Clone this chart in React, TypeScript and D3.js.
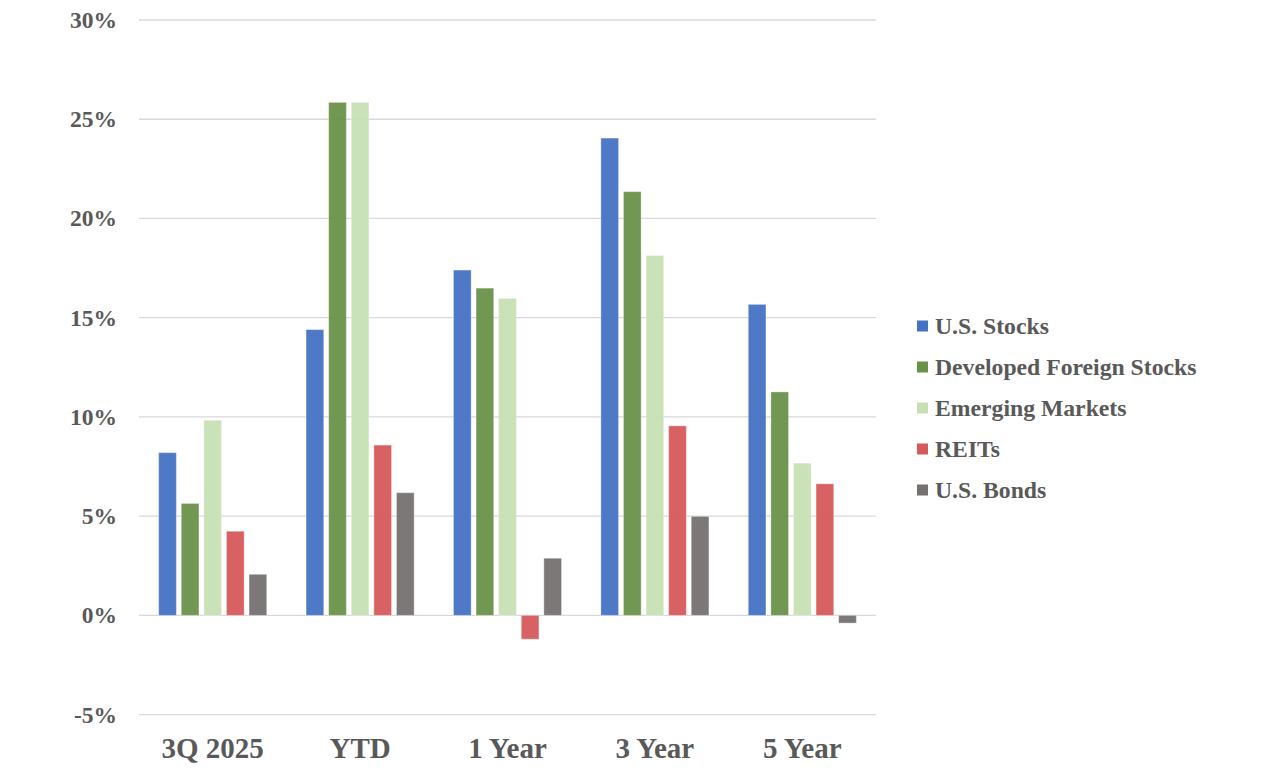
import React from 'react';
import * as d3 from 'd3';

const categories = ['3Q 2025', 'YTD', '1 Year', '3 Year', '5 Year'];
const seriesNames = ['U.S. Stocks', 'Developed Foreign Stocks', 'Emerging Markets', 'REITs', 'U.S. Bonds'];
const seriesColors = ['#4472C4', '#6A914A', '#C6E0B4', '#D65A5B', '#767171'];

// returns (%) per category, one array per series
const usStocks = [8.2, 14.4, 17.4, 24.05, 15.67];
const devForeign = [5.64, 25.85, 16.49, 21.35, 11.26];
const emerging = [9.83, 25.85, 15.97, 18.13, 7.67];
const reits = [4.24, 8.58, -1.2, 9.55, 6.63];
const usBonds = [2.07, 6.18, 2.88, 4.99, -0.39];

const yTicks = [-5, 0, 5, 10, 15, 20, 25, 30];

const W = 1277;
const H = 783;
const textColor = '#595959';
const font = '"Liberation Serif", "Times New Roman", serif';

export default function App() {
  const series = [usStocks, devForeign, emerging, reits, usBonds];

  const x = d3.scaleBand<string>().domain(categories).range([139, 876]);
  const inner = d3
    .scaleBand<number>()
    .domain(d3.range(seriesNames.length))
    .range([0, x.bandwidth()])
    .paddingInner(0.217)
    .paddingOuter(0.87);
  const y = d3.scaleLinear().domain([-5, 30]).range([714.6, 20]);

  return (
    <svg width={W} height={H} style={{ position: 'absolute', left: 0, top: 0, background: '#fff' }}>
      {/* gridlines */}
      <g>
        {yTicks.map(t => (
          <line key={t} x1={139} x2={876} y1={y(t)} y2={y(t)} stroke="#d9d9d9" strokeWidth={1.3} />
        ))}
      </g>

      {/* y labels */}
      <g fontFamily={font} fontWeight="bold" fontSize={23.5} fill={textColor} textAnchor="end">
        {yTicks.map(t => (
          <text key={t} x={117} y={y(t) + 8}>{`${t}%`}</text>
        ))}
      </g>

      {/* bars */}
      <g>
        {series.map((vals, si) =>
          vals.map((v, ci) => {
            const bx = (x(categories[ci]) ?? 0) + (inner(si) ?? 0);
            const y0 = y(Math.max(0, v));
            const h = Math.abs(y(v) - y(0));
            return (
              <rect
                key={`${si}-${ci}`}
                x={bx}
                y={y0}
                width={inner.bandwidth()}
                height={h}
                fill={seriesColors[si]}
                fillOpacity={0.95}
                stroke="#ffffff"
                strokeOpacity={0.35}
                strokeWidth={1}
              />
            );
          })
        )}
      </g>

      {/* category labels */}
      <g fontFamily={font} fontWeight="bold" fontSize={29} fill={textColor} textAnchor="middle">
        {categories.map(c => (
          <text key={c} x={(x(c) ?? 0) + x.bandwidth() / 2} y={758}>{c}</text>
        ))}
      </g>

      {/* legend */}
      <g fontFamily={font} fontWeight="bold" fontSize={23.7} fill={textColor}>
        {seriesNames.map((name, i) => {
          const cy = 326 + i * 41;
          return (
            <g key={name}>
              <rect x={917} y={cy - 5.5} width={11} height={11} fill={seriesColors[i]} />
              <text x={935} y={cy + 8}>{name}</text>
            </g>
          );
        })}
      </g>
    </svg>
  );
}
